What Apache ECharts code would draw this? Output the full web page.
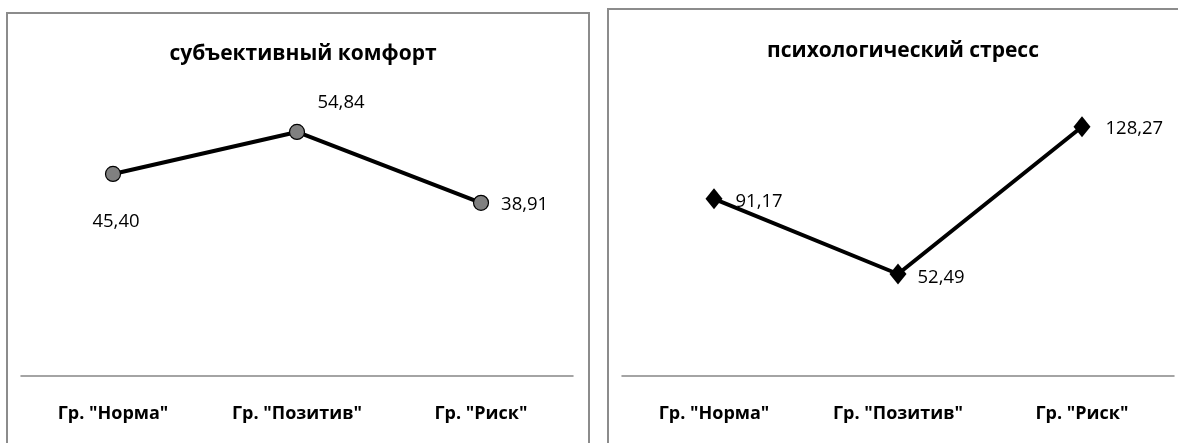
<!DOCTYPE html>
<html>
<head>
<meta charset="utf-8">
<script src="https://cdn.jsdelivr.net/npm/echarts@6/dist/echarts.min.js"></script>
<style>
html,body{margin:0;padding:0;background:#fff;}
#c{width:1178px;height:443px;}
</style>
</head>
<body>
<div id="c"></div>
<script>
const categories = ['Гр. "Норма"', 'Гр. "Позитив"', 'Гр. "Риск"'];
const comfortTitle = 'субъективный комфорт';
const stressTitle = 'психологический стресс';
const comfortValues = [45.40, 54.84, 38.91];
const stressValues = [91.17, 52.49, 128.27];

const FONT = '"Open Sans", "DejaVu Sans", sans-serif';
const fmt = p => p.value.toFixed(2).replace('.', ',');

const chart = echarts.init(document.getElementById('c'), null, {renderer: 'canvas'});

function xAxis(gi) {
  return {
    type: 'category', gridIndex: gi, data: categories,
    axisLine: {show: true, lineStyle: {color: '#868686', width: 1.5}},
    axisTick: {show: false},
    axisLabel: {margin: 29, color: '#000', fontWeight: 'bold', fontSize: 18, fontFamily: FONT}
  };
}
function yAxis(gi, max) {
  return {
    type: 'value', gridIndex: gi, min: 0, max: max,
    show: false, splitLine: {show: false}
  };
}

chart.setOption({
  animation: false,
  backgroundColor: '#fff',
  textStyle: {fontFamily: FONT},
  title: [
    {text: comfortTitle, left: 298, top: 39, textAlign: 'center',
     textStyle: {fontSize: 21, fontWeight: 'bold', color: '#000', fontFamily: FONT}},
    {text: stressTitle, left: 898, top: 36, textAlign: 'center',
     textStyle: {fontSize: 21, fontWeight: 'bold', color: '#000', fontFamily: FONT}}
  ],
  graphic: [
    {type: 'rect', shape: {x: 7, y: 13, width: 582, height: 460}, z: -1,
     style: {fill: 'none', stroke: '#8c8c8c', lineWidth: 2}},
    {type: 'rect', shape: {x: 608, y: 9, width: 600, height: 470}, z: -1,
     style: {fill: 'none', stroke: '#8c8c8c', lineWidth: 2}}
  ],
  grid: [
    {left: 21, width: 552, top: 109, bottom: 67},
    {left: 622, width: 552, top: 104, bottom: 67}
  ],
  xAxis: [xAxis(0), xAxis(1)],
  yAxis: [yAxis(0, 60), yAxis(1, 140)],
  series: [
    {
      type: 'line', xAxisIndex: 0, yAxisIndex: 0,
      symbol: 'circle', symbolSize: 15,
      lineStyle: {color: '#000', width: 4},
      itemStyle: {color: '#808080', borderColor: '#000', borderWidth: 1.2},
      label: {show: true, formatter: fmt, color: '#000', fontSize: 18.5, fontFamily: FONT},
      data: [
        {value: comfortValues[0], label: {position: 'bottom', distance: 30, offset: [3, 0]}},
        {value: comfortValues[1], label: {position: 'top', distance: 12, offset: [44, 0]}},
        {value: comfortValues[2], label: {position: 'right', distance: 12, offset: [0, 2]}}
      ]
    },
    {
      type: 'line', xAxisIndex: 1, yAxisIndex: 1,
      symbol: 'diamond', symbolSize: [17, 21],
      lineStyle: {color: '#000', width: 4},
      itemStyle: {color: '#000'},
      label: {show: true, formatter: fmt, color: '#000', fontSize: 18.5, fontFamily: FONT, position: 'right', distance: 6},
      data: [
        {value: stressValues[0], label: {offset: [7, 3]}},
        {value: stressValues[1], label: {offset: [5, 4]}},
        {value: stressValues[2], label: {offset: [9, 2]}}
      ]
    }
  ]
});
</script>
</body>
</html>
